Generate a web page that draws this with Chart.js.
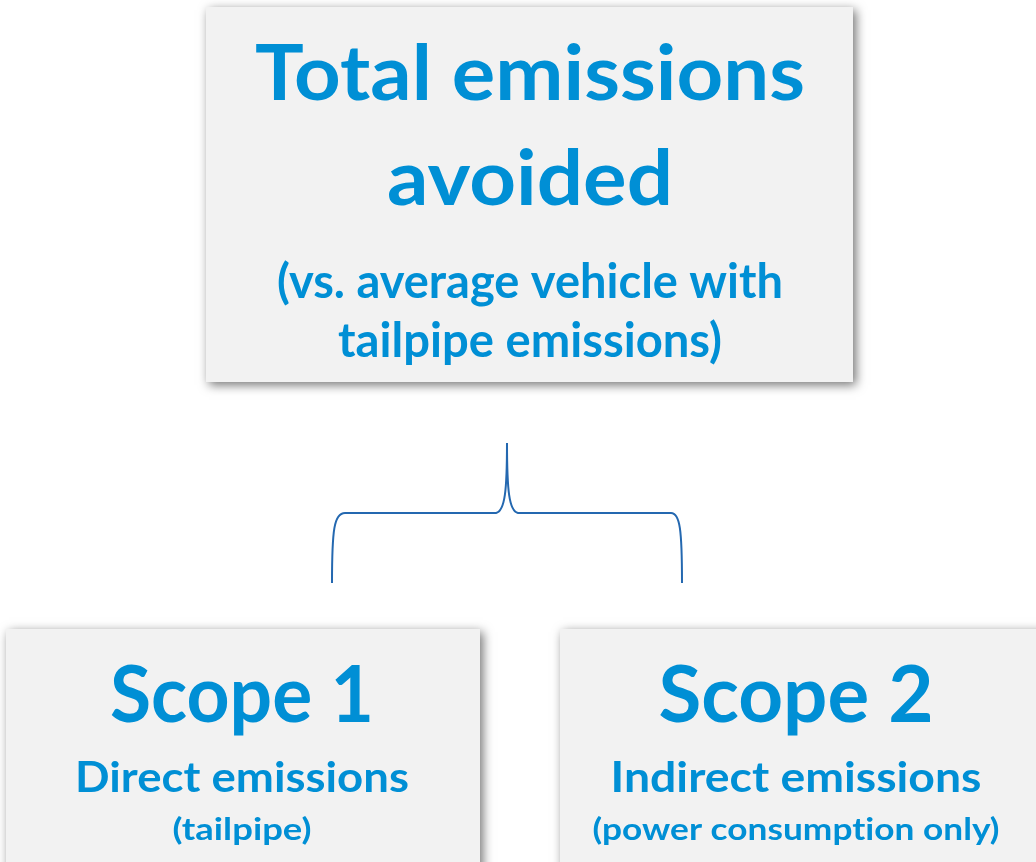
<!DOCTYPE html>
<html>
<head>
<meta charset="utf-8">
<script src="https://cdn.jsdelivr.net/npm/chart.js@4"></script>
<style>
  html, body { margin: 0; padding: 0; background: #ffffff; }
  #wrap { width: 1036px; height: 862px; }
</style>
</head>
<body>
<div id="wrap"><canvas id="diagram" width="1036" height="862"></canvas></div>
<script>
// boxes in the diagram (in chart units, x 0..1036, y 0..862 top-down)
const boxNames  = ['total', 'scope1', 'scope2'];
const boxLeft   = [206, 6, 560];
const boxRight  = [853, 480, 1046];
const boxTop    = [7, 629, 629];
const boxBottom = [382, 872, 872];

// text lines for each box
const totalLines  = ['Total emissions', 'avoided', '(vs. average vehicle with', 'tailpipe emissions)'];
const scope1Lines = ['Scope 1', 'Direct emissions', '(tailpipe)'];
const scope2Lines = ['Scope 2', 'Indirect emissions', '(power consumption only)'];

// brace joining the top box to the two bottom boxes
const braceX = [332, 332, 334, 345, 496, 505, 507, 507, 507, 509, 518, 671, 680, 682, 682];
const braceY = [583, 530, 513, 513, 513, 511, 490, 443, 490, 511, 513, 513, 513, 530, 583];

const blue = '#008fd5';
const fontFamily = 'Lato, "Open Sans", sans-serif';

// line layout: baseline y, font size, target width, centre x (per box)
const lineStyle = {
  total:  { cx: 530, rows: [[100, 76, 550], [205, 76, 286], [298, 47, 506], [357, 47, 384]] },
  scope1: { cx: 242, rows: [[722, 78, 264], [792, 42, 334], [840, 31, 139]] },
  scope2: { cx: 796, rows: [[722, 78, 275], [792, 42, 371], [840, 31, 407]] }
};
const linesByBox = { total: totalLines, scope1: scope1Lines, scope2: scope2Lines };

const diagramPlugin = {
  id: 'diagram',
  afterDatasetsDraw(chart) {
    const ctx = chart.ctx;
    const xs = chart.scales.x, ys = chart.scales.y;
    const px = v => xs.getPixelForValue(v);
    const py = v => ys.getPixelForValue(v);

    // boxes with soft shadow
    boxNames.forEach((name, i) => {
      ctx.save();
      ctx.shadowColor = 'rgba(0,0,0,0.55)';
      ctx.shadowBlur = 10;
      ctx.shadowOffsetX = 3;
      ctx.shadowOffsetY = 3;
      ctx.fillStyle = '#f2f2f2';
      ctx.fillRect(px(boxLeft[i]), py(boxTop[i]), px(boxRight[i]) - px(boxLeft[i]), py(boxBottom[i]) - py(boxTop[i]));
      ctx.restore();
    });

    // text
    boxNames.forEach(name => {
      const st = lineStyle[name];
      linesByBox[name].forEach((txt, j) => {
        const [base, size, w] = st.rows[j];
        ctx.save();
        ctx.font = 'bold ' + size + 'px ' + fontFamily;
        ctx.letterSpacing = '0.01px'; // stops the "ti" ligature
        ctx.fillStyle = blue;
        ctx.textAlign = 'center';
        ctx.textBaseline = 'alphabetic';
        const natural = ctx.measureText(txt).width;
        ctx.translate(px(st.cx), py(base));
        ctx.scale(w / natural, 1);
        ctx.fillText(txt, 0, 0);
        ctx.restore();
      });
    });

    // brace: straight start, then cubic segments
    ctx.save();
    ctx.strokeStyle = '#2468b0';
    ctx.lineWidth = 2;
    ctx.beginPath();
    ctx.moveTo(px(braceX[0]), py(braceY[0]));
    const seg = [[1, 'c'], [4, 'l'], [5, 'c'], [8, 'c'], [11, 'l'], [12, 'c']];
    seg.forEach(([k, type]) => {
      if (type === 'l') {
        ctx.lineTo(px(braceX[k]), py(braceY[k]));
      } else {
        ctx.bezierCurveTo(px(braceX[k]), py(braceY[k]), px(braceX[k + 1]), py(braceY[k + 1]), px(braceX[k + 2]), py(braceY[k + 2]));
      }
    });
    ctx.stroke();
    ctx.restore();
  }
};

new Chart(document.getElementById('diagram').getContext('2d'), {
  type: 'scatter',
  data: { datasets: [{ data: [], pointRadius: 0 }] },
  options: {
    responsive: false,
    animation: false,
    events: [],
    layout: { padding: 0 },
    plugins: { legend: { display: false }, tooltip: { enabled: false } },
    scales: {
      x: { type: 'linear', min: 0, max: 1036, display: false },
      y: { type: 'linear', min: 0, max: 862, reverse: true, display: false }
    }
  },
  plugins: [diagramPlugin]
});
</script>
</body>
</html>
